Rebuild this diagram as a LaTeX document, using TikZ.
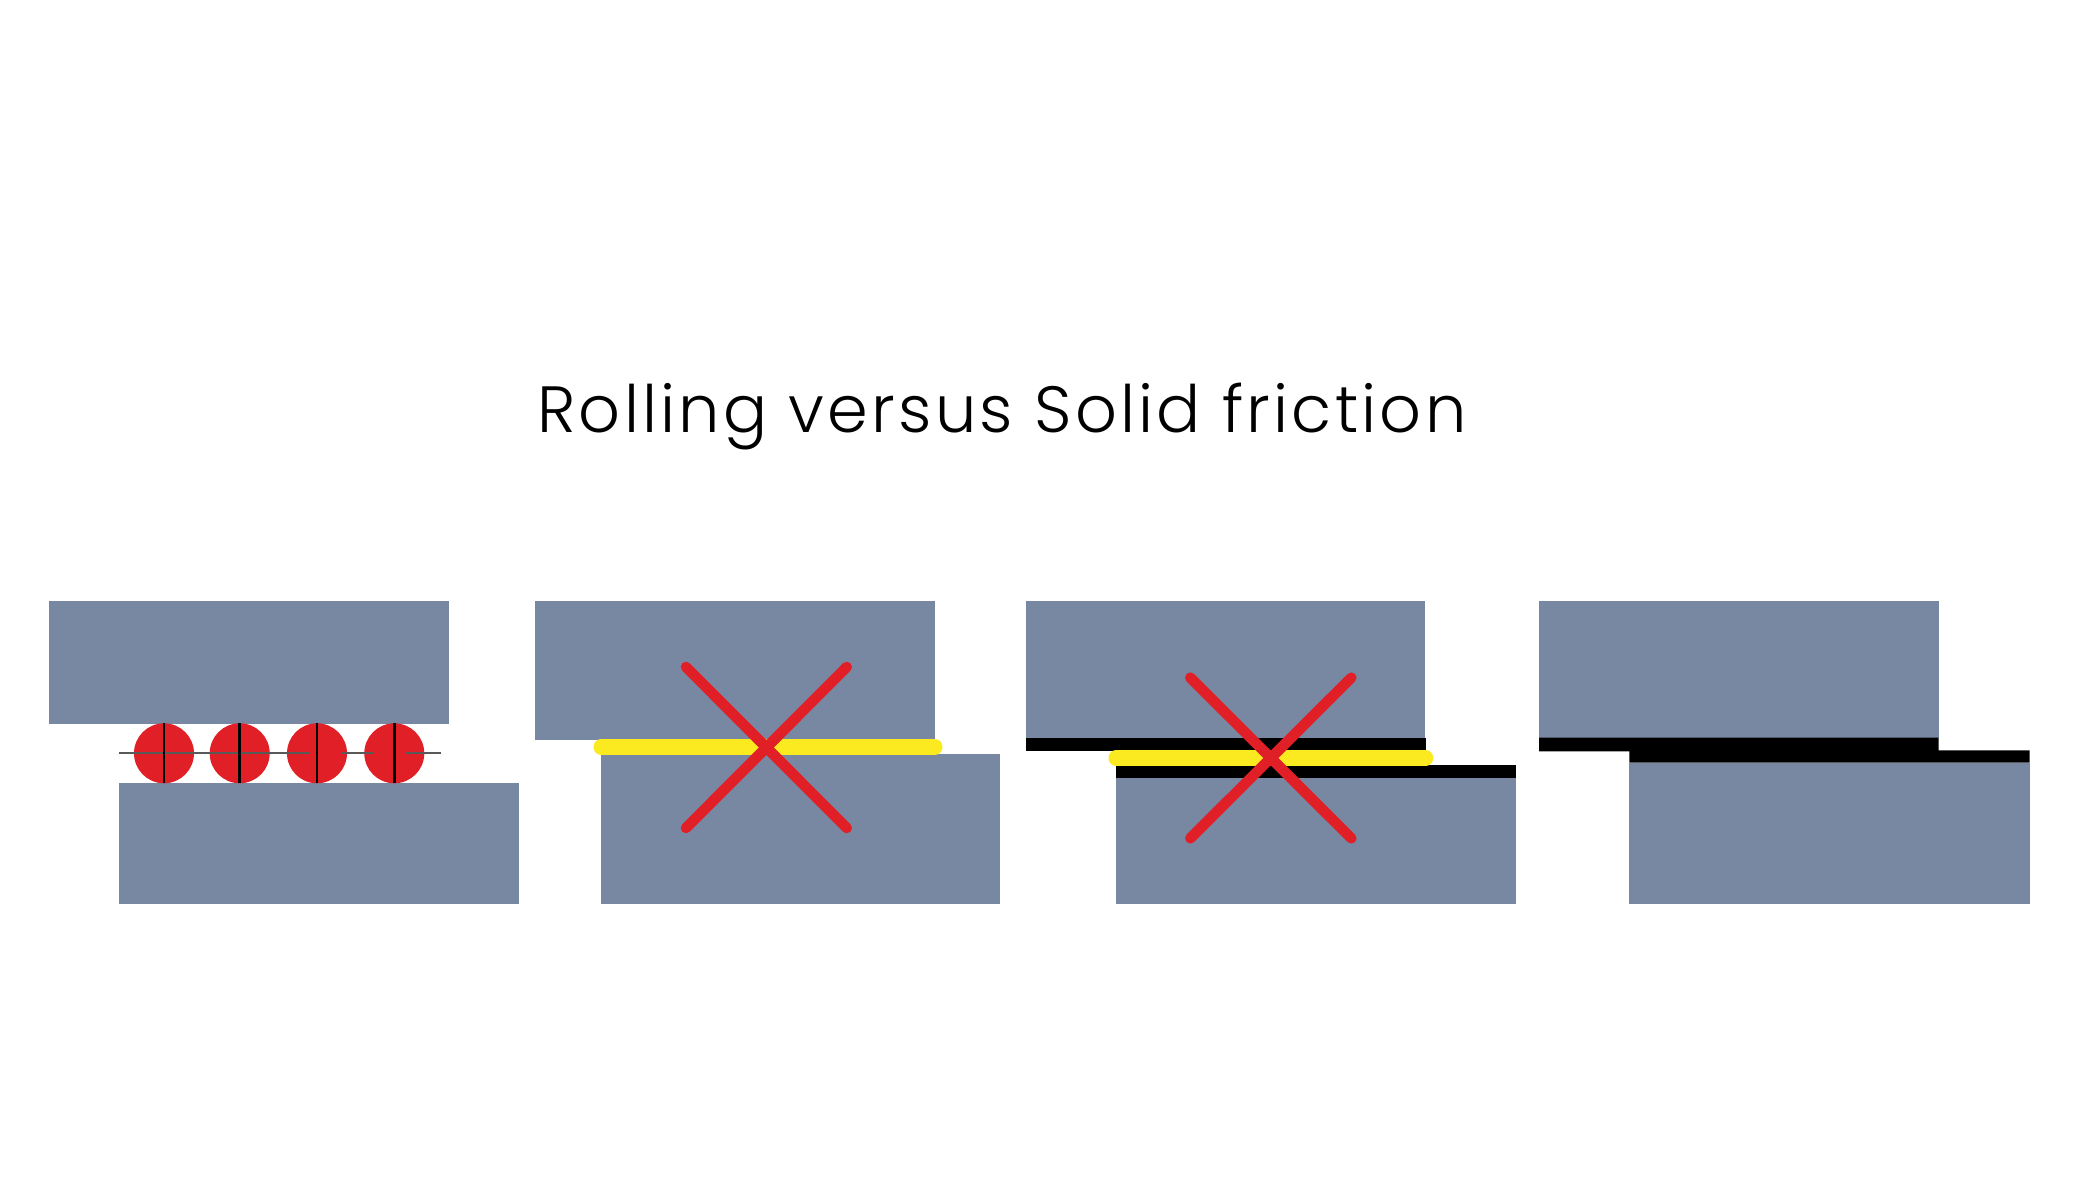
\documentclass[tikz,border=0pt]{standalone}
\usepackage{fontspec}
\setmainfont{Poppins Light}
\usetikzlibrary{positioning, calc}

\definecolor{plategray}{HTML}{7888A2}
\definecolor{ballred}{HTML}{E01F26}
\definecolor{lubeyellow}{HTML}{FBEA1F}

\tikzset{
    plate/.style={fill=plategray, draw=none},
    film/.style={fill=black, draw=none},
    ball/.style={fill=ballred, draw=none},
    axle/.style={draw=black!65, line width=0.6pt},
    spoke/.style={draw=black, line width=0.7pt},
    lube/.style={draw=lubeyellow, line width=4.3pt, line cap=round},
    cross/.style={draw=ballred, line width=3pt, line cap=round}
}

\begin{document}
\begin{tikzpicture}

    \useasboundingbox (0, 0) rectangle (20.8, 12);

    % --- title ---
    \node [anchor=base, inner sep=0pt] (title) at (10.018, 7.673) {\fontsize{18.6pt}{22pt}\selectfont\addfontfeature{LetterSpace=5}Rolling versus Solid friction};

    % --- 1. rolling ---
    \fill [plate] (0.493, 5.993) rectangle (4.487, 4.763);
    \fill [plate] (1.193, 4.167) rectangle (5.187, 2.96);

    \foreach \bx in {1.64, 2.397, 3.17, 3.943} {
        \fill [ball] (\bx, 4.467) circle (0.3);
    }
    \draw [axle] (1.193, 4.467) -- (3.093, 4.467);
    \draw [axle] (3.417, 4.467) -- (3.733, 4.467);
    \draw [axle] (4.05, 4.467) -- (4.407, 4.467);
    \foreach \bx in {1.64, 2.397, 3.17, 3.943} {
        \draw [spoke] (\bx, 4.767) -- (\bx, 4.167);
    }

    % --- 2. lubricant only ---
    \fill [plate] (5.353, 5.993) rectangle (9.35, 4.6);
    \fill [plate] (6.013, 4.457) rectangle (10.003, 2.96);
    \draw [lube] (6.01, 4.53) -- (9.35, 4.53);
    \draw [cross] (6.86, 5.33) -- (8.467, 3.72);
    \draw [cross] (8.467, 5.33) -- (6.86, 3.72);

    % --- 3. coatings with lubricant ---
    \fill [plate] (10.26, 5.993) rectangle (14.253, 4.623);
    \fill [film] (10.26, 4.623) rectangle (14.257, 4.487);
    \fill [plate] (11.16, 4.223) rectangle (15.16, 2.957);
    \fill [film] (11.16, 4.353) rectangle (15.16, 4.223);
    \draw [lube] (11.16, 4.42) -- (14.257, 4.42);
    \draw [cross] (11.903, 5.223) -- (13.513, 3.617);
    \draw [cross] (13.513, 5.223) -- (11.903, 3.617);

    % --- 4. coatings in contact ---
    \fill [plate] (15.39, 5.993) rectangle (19.387, 4.623);
    \fill [plate] (16.293, 4.373) rectangle (20.297, 2.957);
    \fill [film] (15.39, 4.623) -- (19.387, 4.623) -- (19.387, 4.497) -- (20.297, 4.497)
        -- (20.297, 4.373) -- (16.293, 4.373) -- (16.293, 4.487) -- (15.39, 4.487) -- cycle;

\end{tikzpicture}
\end{document}
